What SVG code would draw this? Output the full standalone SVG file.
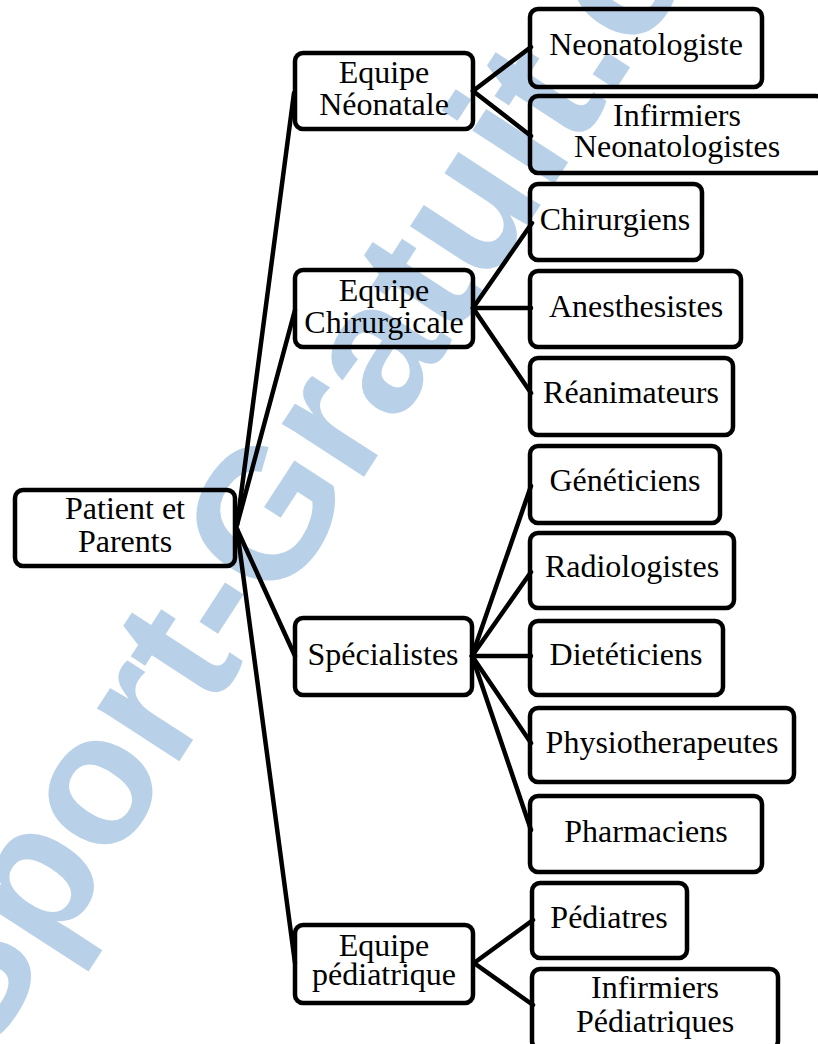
<svg xmlns="http://www.w3.org/2000/svg" width="818" height="1044" viewBox="0 0 818 1044">
<style>
.box{fill:none;stroke:#000;stroke-width:4.5}
.t{font-size:32px;fill:#000;text-anchor:middle}
.c{stroke:#000;stroke-width:4.5;fill:none;stroke-linecap:round}
.wm{font-weight:bold;font-size:185px;fill:#b9d1e8}
</style>
<rect width="818" height="1044" fill="#fff"/>
<text class="wm" font-family="Liberation Sans, Arial, sans-serif" transform="translate(-18,1065) rotate(-57)">Sport-Gratuit.com</text>
<g id="connectors">
<line class="c" x1="237" y1="525" x2="294" y2="93"/>
<line class="c" x1="237" y1="525" x2="295" y2="310"/>
<line class="c" x1="237" y1="529" x2="295" y2="656"/>
<line class="c" x1="237" y1="529" x2="295" y2="963"/>
<line class="c" x1="473" y1="91" x2="531" y2="47"/>
<line class="c" x1="473" y1="91" x2="531" y2="136"/>
<line class="c" x1="473" y1="308" x2="532" y2="223"/>
<line class="c" x1="473" y1="308" x2="531" y2="308"/>
<line class="c" x1="473" y1="308" x2="531" y2="393"/>
<line class="c" x1="472" y1="656" x2="531" y2="486"/>
<line class="c" x1="472" y1="656" x2="531" y2="572"/>
<line class="c" x1="472" y1="656" x2="531" y2="656"/>
<line class="c" x1="472" y1="656" x2="531" y2="743"/>
<line class="c" x1="472" y1="656" x2="531" y2="830"/>
<line class="c" x1="474" y1="963" x2="533" y2="920"/>
<line class="c" x1="474" y1="963" x2="533" y2="1005"/>
</g>
<g font-family="Liberation Serif, Tinos, Times New Roman, Times, FreeSerif, Noto Serif, DejaVu Serif, serif">
<g id="root">
<rect class="box" x="15" y="490" width="220" height="76" rx="8"/>
<text class="t" x="125" y="519">Patient et</text>
<text class="t" x="125" y="552">Parents</text>
</g>
<g id="equipe-neonatale">
<rect class="box" x="295" y="53" width="178" height="76" rx="8"/>
<text class="t" x="384" y="83">Equipe</text>
<text class="t" x="384" y="115">Néonatale</text>
</g>
<g id="equipe-chirurgicale">
<rect class="box" x="295" y="270" width="178" height="77" rx="8"/>
<text class="t" x="384" y="301">Equipe</text>
<text class="t" x="384" y="333">Chirurgicale</text>
</g>
<g id="specialistes">
<rect class="box" x="295" y="618" width="177" height="77" rx="8"/>
<text class="t" x="383" y="665">Spécialistes</text>
</g>
<g id="equipe-pediatrique">
<rect class="box" x="295" y="925" width="178" height="78" rx="8"/>
<text class="t" x="384" y="956">Equipe</text>
<text class="t" x="384" y="985">pédiatrique</text>
</g>
<g id="neonatologiste">
<rect class="box" x="530" y="9" width="232" height="78" rx="8"/>
<text class="t" x="646" y="55">Neonatologiste</text>
</g>
<g id="infirmiers-neonatologistes">
<rect class="box" x="530" y="96" width="294" height="77" rx="8"/>
<text class="t" x="677" y="126">Infirmiers</text>
<text class="t" x="677" y="157">Neonatologistes</text>
</g>
<g id="chirurgiens">
<rect class="box" x="530" y="184" width="172" height="76" rx="8"/>
<text class="t" x="615" y="230">Chirurgiens</text>
</g>
<g id="anesthesistes">
<rect class="box" x="530" y="271" width="211" height="76" rx="8"/>
<text class="t" x="636" y="317">Anesthesistes</text>
</g>
<g id="reanimateurs">
<rect class="box" x="530" y="358" width="203" height="77" rx="8"/>
<text class="t" x="631" y="403">Réanimateurs</text>
</g>
<g id="geneticiens">
<rect class="box" x="530" y="446" width="190" height="77" rx="8"/>
<text class="t" x="625" y="491">Généticiens</text>
</g>
<g id="radiologistes">
<rect class="box" x="530" y="533" width="204" height="75" rx="8"/>
<text class="t" x="632" y="577">Radiologistes</text>
</g>
<g id="dieteticiens">
<rect class="box" x="530" y="621" width="193" height="74" rx="8"/>
<text class="t" x="626" y="665">Dietéticiens</text>
</g>
<g id="physiotherapeutes">
<rect class="box" x="530" y="708" width="264" height="74" rx="8"/>
<text class="t" x="662" y="753">Physiotherapeutes</text>
</g>
<g id="pharmaciens">
<rect class="box" x="530" y="796" width="232" height="76" rx="8"/>
<text class="t" x="646" y="842">Pharmaciens</text>
</g>
<g id="pediatres">
<rect class="box" x="532" y="883" width="155" height="75" rx="8"/>
<text class="t" x="609" y="928">Pédiatres</text>
</g>
<g id="infirmiers-pediatriques">
<rect class="box" x="532" y="969" width="246" height="80" rx="8"/>
<text class="t" x="655" y="998">Infirmiers</text>
<text class="t" x="655" y="1032">Pédiatriques</text>
</g>
</g>
</svg>
